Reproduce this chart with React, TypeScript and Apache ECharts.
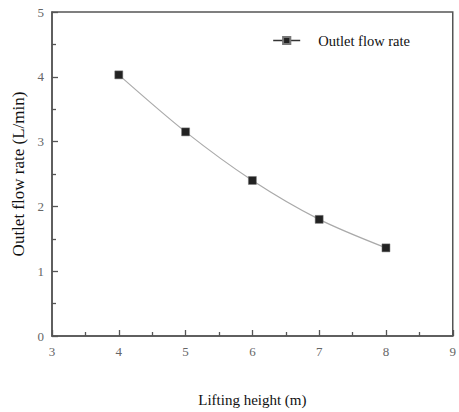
import React, { useEffect, useRef } from "react";
import * as echarts from "echarts";

const heights = [4, 5, 6, 7, 8];
const flowRates = [4.03, 3.15, 2.4, 1.8, 1.36];
const seriesName = "Outlet flow rate";
const xAxisName = "Lifting height (m)";
const yAxisName = "Outlet flow rate (L/min)";

export default function App() {
  const ref = useRef<HTMLDivElement>(null);
  useEffect(() => {
    const chart = echarts.init(ref.current!, null, { renderer: "svg" });
    const font = "Liberation Serif";
    const axisLine = { show: true, lineStyle: { color: "#555", width: 1.5 } };
    chart.setOption({
      animation: false,
      backgroundColor: "#fff",
      textStyle: { fontFamily: font },
      grid: {
        left: 52,
        right: 5,
        top: 12,
        bottom: 73,
        show: true,
        borderColor: "#555",
        borderWidth: 1.5,
      },
      legend: {
        show: true,
        data: [seriesName],
        right: 44,
        top: 28,
        itemWidth: 27,
        itemHeight: 9,
        lineStyle: { color: "#333", width: 1.5 },
        textStyle: { fontFamily: font, fontSize: 14.5, color: "#111", padding: [0, 0, 0, 13] },
      },
      xAxis: {
        type: "value",
        min: 3,
        max: 9,
        interval: 1,
        name: xAxisName,
        nameLocation: "middle",
        nameGap: 56,
        nameTextStyle: { fontFamily: font, fontSize: 15, color: "#111" },
        axisLine,
        axisTick: { show: true, inside: true, length: 6, lineStyle: { color: "#555", width: 1.3 } },
        minorTick: { show: true, splitNumber: 2, length: 4, lineStyle: { color: "#555", width: 1.3 } },
        splitLine: { show: false },
        axisLabel: { fontFamily: font, fontSize: 13, color: "#666", margin: 9 },
      },
      yAxis: {
        type: "value",
        min: 0,
        max: 5,
        interval: 1,
        name: yAxisName,
        nameLocation: "middle",
        nameGap: 25,
        nameTextStyle: { fontFamily: font, fontSize: 17, color: "#111" },
        axisLine,
        axisTick: { show: true, inside: true, length: 6, lineStyle: { color: "#555", width: 1.3 } },
        minorTick: { show: true, splitNumber: 2, length: 4, lineStyle: { color: "#555", width: 1.3 } },
        splitLine: { show: false },
        axisLabel: { fontFamily: font, fontSize: 13, color: "#666", margin: 8 },
      },
      series: [
        {
          name: seriesName,
          type: "line",
          data: heights.map((h, i) => [h, flowRates[i]]),
          smooth: 0.3,
          symbol: "rect",
          symbolSize: 8,
          itemStyle: { color: "#222", borderColor: "#777", borderWidth: 0.5 },
          lineStyle: { color: "#aaa", width: 1.2 },
        },
      ],
    });
    return () => chart.dispose();
  }, []);
  return <div ref={ref} style={{ width: 459, height: 412, position: "absolute", left: 0, top: 0 }} />;
}
